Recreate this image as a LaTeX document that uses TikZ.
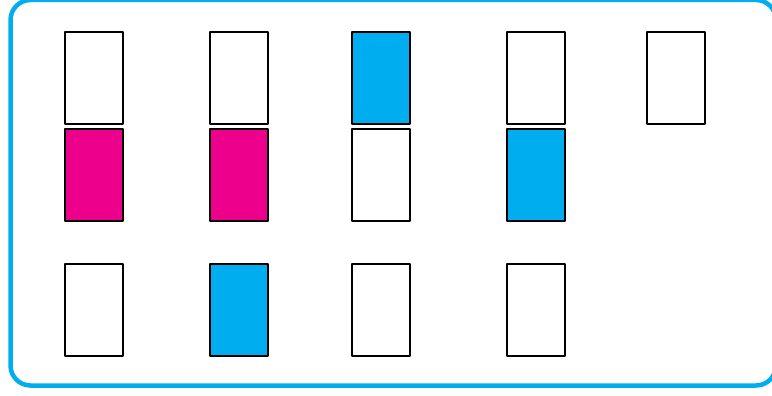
\documentclass[tikz,border=0pt]{standalone}
\usepackage{tikz}

\begin{document}
\begin{tikzpicture}[x=1pt, y=-1pt, line join=round]
        \definecolor{framecolor}{RGB}{0,174,239}
        \definecolor{pinkcolor}{RGB}{236,0,140}
        \tikzset{card/.style={draw=black, line width=2pt, minimum width=58pt, minimum height=92pt, inner sep=0pt, fill=white}}

        \useasboundingbox (0,0) rectangle (772,396);
        \clip (0,0) rectangle (772,396);
        \draw[framecolor, line width=4.5pt, rounded corners=20pt] (10.5,0) rectangle (776,385.5);

        % top row
        \node[card] (a1) at (93.5,77.8) {};
        \node[card] (b1) at (238.5,77.8) {};
        \node[card, fill=framecolor] (c1) at (380.5,77.8) {};
        \node[card] (d1) at (535.5,77.8) {};
        \node[card] (e1) at (675.8,77.8) {};

        % middle row
        \node[card, fill=pinkcolor] (a2) at (93.5,174.8) {};
        \node[card, fill=pinkcolor] (b2) at (238.5,174.8) {};
        \node[card] (c2) at (380.5,174.8) {};
        \node[card, fill=framecolor] (d2) at (535.5,174.8) {};

        % bottom row
        \node[card] (a3) at (93.5,310) {};
        \node[card, fill=framecolor] (b3) at (238.5,310) {};
        \node[card] (c3) at (380.5,310) {};
        \node[card] (d3) at (535.5,310) {};
    \end{tikzpicture}
\end{document}
